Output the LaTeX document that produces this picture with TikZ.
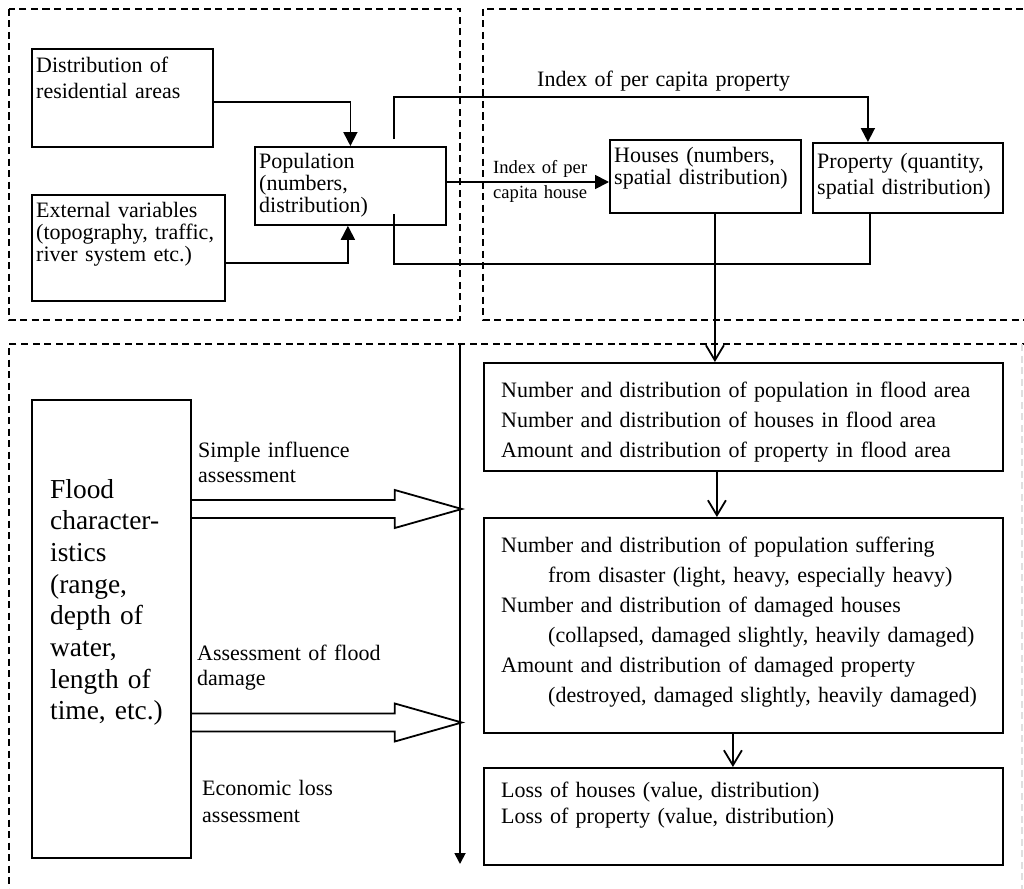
\documentclass[tikz,border=0pt]{standalone}
\usepackage{fontspec}
\setmainfont{Liberation Serif}
\usetikzlibrary{arrows.meta,calc}
\setlength{\lineskiplimit}{-50pt}
\newcommand{\fsz}[2]{\fontsize{#1pt}{#2pt}\selectfont}
\begin{document}
\begin{tikzpicture}[x=1pt,y=-1pt,
  box/.style={draw, line width=1.8, anchor=north west, inner sep=0},
  zone/.style={draw, line width=1.8, dash pattern=on 7pt off 4.5pt},
  conn/.style={line width=1.8},
  tofill/.style={-{Triangle[length=14pt,width=14pt]}},
  tosmall/.style={-{Triangle[length=11pt,width=11pt]}},
  toopen/.style={-{Straight Barb[length=15pt,width=18pt,line width=1.8pt]}},
  txt/.style={anchor=base west, inner sep=0, align=left, text width=560pt,
    font={\fsz{22}{#1}}},
  txt/.default=26,
  small/.style={anchor=base west, inner sep=0, align=left, text width=200pt,
    font={\fsz{18.6}{25}}},
  big/.style={anchor=base west, inner sep=0, align=left, text width=200pt,
    font={\fsz{27.4}{31.7}}}
]
\useasboundingbox (0,0) rectangle (1024,888);
\clip (0,0) rectangle (1024,888);

% dashed zones
\draw[zone] (9,9) rectangle (460,320);
\draw[zone] (483,9) rectangle (1040,320);
\draw[zone] (1040,344) -- (9,344) -- (9,900);
\draw[zone, gray!25] (1022,344) -- (1022,900);

% upper part: population, houses, property
\node[box, minimum width=181pt, minimum height=98pt] (dist) at (31,48) {};
\node[txt=26] (distT) at (36,73) {Distribution of\\residential areas};

\node[box, minimum width=193pt, minimum height=106pt] (ext) at (31,194) {};
\node[txt=22] (extT) at (36,217) {External variables\\(topography, traffic,\\river system etc.)};

\node[box, minimum width=191pt, minimum height=78pt] (pop) at (254,146) {};
\node[txt=22] (popT) at (259,168) {Population\\(numbers,\\distribution)};

\node[box, minimum width=191pt, minimum height=73pt] (houses) at (609,139) {};
\node[txt=22] (housesT) at (614,162) {Houses (numbers,\\spatial distribution)};

\node[box, minimum width=190pt, minimum height=70pt] (prop) at (812,142) {};
\node[txt=26] (propT) at (817,168) {Property (quantity,\\spatial distribution)};

\node[txt] (idxProp) at (537,87) {Index of per capita property};
\node[small] (idxHouse) at (493,173) {Index of per\\capita house};

% upper connectors
\draw[conn, tofill] ([yshift=-54pt]dist.north east) -| (pop.north);
\draw[conn, tofill] ([yshift=-69pt]ext.north east) -| ([xshift=-2.5pt]pop.south);
\coordinate (popE) at ([yshift=-36pt]pop.north east);
\draw[conn, tofill] (popE) -- (popE -| houses.west);
\coordinate (popTop) at ([xshift=43.5pt,yshift=7pt]pop.north);
\draw[conn, tofill] (popTop) -- ++(0,-42) -| ([xshift=-40pt]prop.north);
\draw[conn] ([xshift=-38pt]prop.south) -- ++(0,50) -| ([xshift=43.5pt,yshift=12pt]pop.south);

% lower part: flood assessment
\node[box, minimum width=159pt, minimum height=458pt] (flood) at (31,399) {};
\node[big] (floodT) at (50,498) {Flood\\character-\\istics\\(range,\\depth of\\water,\\length of\\time, etc.)};

\node[box, minimum width=519pt, minimum height=108pt] (area) at (483,362) {};
\node[txt=30] (areaT) at (501,397) {Number and distribution of population in flood area\\
Number and distribution of houses in flood area\\
Amount and distribution of property in flood area};

\node[box, minimum width=519pt, minimum height=215pt] (damage) at (483,517) {};
\node[txt=30] (damageT) at (501,552) {Number and distribution of population suffering\\
\hspace*{47pt}from disaster (light, heavy, especially heavy)\\
Number and distribution of damaged houses\\
\hspace*{47pt}(collapsed, damaged slightly, heavily damaged)\\
Amount and distribution of damaged property\\
\hspace*{47pt}(destroyed, damaged slightly, heavily damaged)};

\node[box, minimum width=519pt, minimum height=97pt] (loss) at (483,767) {};
\node[txt=26] (lossT) at (501,797) {Loss of houses (value, distribution)\\Loss of property (value, distribution)};

\node[txt=25] (simpleL) at (198,457) {Simple influence\\assessment};
\node[txt=25] (damageL) at (197,660) {Assessment of flood\\damage};
\node[txt=27] (econL) at (202,795) {Economic loss\\assessment};

% assessment axis
\coordinate (axTop) at (460,344);
\coordinate (axBot) at (460,864);
\draw[conn, tosmall] (axTop) -- (axBot);

% broad hollow arrows from the flood box to the axis
\draw[conn, line join=miter] ([yshift=-101pt]flood.north east)
  -- ++(203,0) -- ++(0,-10) -- ++(67,19) -- ++(-67,19) -- ++(0,-10) -- ++(-203,0);
\draw[conn, line join=miter] ([yshift=-314.5pt]flood.north east)
  -- ++(203,0) -- ++(0,-10) -- ++(67,19) -- ++(-67,19) -- ++(0,-10) -- ++(-203,0);

% downward flow on the right
\coordinate (housesS) at ([xshift=9.5pt]houses.south);
\draw[conn, toopen] (housesS) -- (housesS |- area.north);
\coordinate (areaS) at ([xshift=-26.5pt]area.south);
\draw[conn, toopen] (areaS) -- (areaS |- damage.north);
\coordinate (damageS) at ([xshift=-10.5pt]damage.south);
\draw[conn, toopen] (damageS) -- (damageS |- loss.north);
\end{tikzpicture}
\end{document}
